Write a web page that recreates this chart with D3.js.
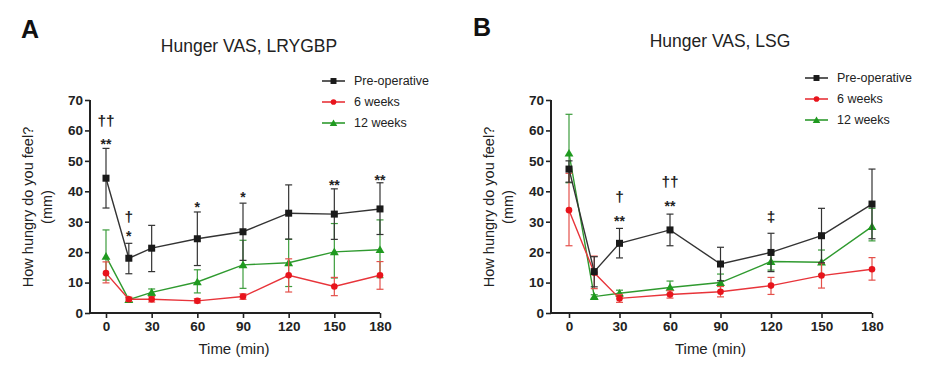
<!DOCTYPE html>
<html>
<head>
<meta charset="utf-8">
<script src="https://cdn.jsdelivr.net/npm/d3@7"></script>
<style>
  body { margin: 0; background: #fff; }
  svg { display: block; font-family: "Liberation Sans", Arial, sans-serif; }
</style>
</head>
<body>
<div id="chart"></div>
<script>
const times = [0, 15, 30, 60, 90, 120, 150, 180];
const xTicks = [0, 30, 60, 90, 120, 150, 180];
const yTicks = [0, 10, 20, 30, 40, 50, 60, 70];
const seriesNames = ["Pre-operative", "6 weeks", "12 weeks"];

// Panel A - LRYGBP
const preA = [44.3, 18.0, 21.3, 24.4, 26.7, 32.8, 32.5, 34.2];
const preA_lo = [34.5, 12.9, 13.6, 15.6, 17.3, 24.3, 24.2, 25.8];
const preA_hi = [54.1, 22.9, 28.8, 33.2, 36.1, 42.1, 40.8, 42.8];
const w6A = [13.1, 4.5, 4.5, 4.0, 5.4, 12.4, 8.7, 12.4];
const w6A_lo = [9.9, 3.8, 3.6, 3.3, 4.5, 6.9, 5.7, 7.8];
const w6A_hi = [16.8, 5.2, 5.4, 4.7, 6.3, 17.8, 11.7, 16.9];
const w12A = [18.6, 4.4, 6.8, 10.2, 15.8, 16.5, 20.1, 20.8];
const w12A_lo = [10.8, 3.8, 5.8, 6.6, 8.1, 8.7, 11.5, 11.6];
const w12A_hi = [27.3, 5.0, 7.9, 14.2, 23.9, 24.2, 29.4, 30.6];
const annotA = [
  {t: 0, y: 63.5, label: "††"}, {t: 0, y: 57.5, label: "**"},
  {t: 15, y: 32, label: "†"}, {t: 15, y: 27, label: "*"},
  {t: 60, y: 36.5, label: "*"}, {t: 90, y: 40, label: "*"},
  {t: 150, y: 44, label: "**"}, {t: 180, y: 45.6, label: "**"}
];

// Panel B - LSG
const preB = [47.3, 13.6, 22.9, 27.3, 16.1, 19.9, 25.4, 35.8];
const preB_lo = [43.0, 8.6, 18.1, 22.1, 10.6, 13.6, 16.5, 24.4];
const preB_hi = [50.0, 18.5, 27.8, 32.5, 21.6, 26.2, 34.4, 47.3];
const w6B = [33.8, 13.2, 4.8, 6.1, 7.0, 9.0, 12.3, 14.4];
const w6B_lo = [22.1, 8.0, 3.5, 4.9, 5.3, 6.1, 8.2, 10.8];
const w6B_hi = [45.9, 18.7, 6.1, 7.3, 8.7, 11.7, 16.4, 18.2];
const w12B = [52.5, 5.4, 6.5, 8.4, 10.0, 16.9, 16.7, 28.4];
const w12B_lo = [42.8, 4.8, 5.5, 6.3, 7.1, 14.1, 12.7, 23.7];
const w12B_hi = [65.3, 6.0, 7.5, 10.5, 12.8, 19.9, 20.7, 34.4];
const annotB = [
  {t: 30, y: 38.5, label: "†"}, {t: 30, y: 32, label: "**"},
  {t: 60, y: 43.5, label: "††"}, {t: 60, y: 37, label: "**"},
  {t: 120, y: 32, label: "‡"}
];

const colors = ["#1a1a1a", "#e8141c", "#1f9a1f"];
const lineColors = ["#333333", "#e8343a", "#2f9a2f"];
const errColors = ["#333333", "#e4504a", "#3c9c3c"];

const svg = d3.select("#chart").append("svg")
  .attr("width", 936).attr("height", 369);

function drawMarker(g, kind, x, y, color, sc = 1) {
  if (kind === 0) {
    g.append("rect").attr("x", x - 3.5 * sc).attr("y", y - 3.5 * sc)
      .attr("width", 7 * sc).attr("height", 7 * sc).attr("fill", color);
  } else if (kind === 1) {
    g.append("circle").attr("cx", x).attr("cy", y).attr("r", 3.3 * sc).attr("fill", color);
  } else {
    g.append("path")
      .attr("d", d3.symbol().type(d3.symbolTriangle).size(34 * sc * sc)())
      .attr("transform", `translate(${x},${y + 0.8})`)
      .attr("fill", color);
  }
}

function drawPanel(p) {
  const g = svg.append("g");
  const x = d3.scaleLinear().domain([0, 180]).range(p.xRange);
  const y = d3.scaleLinear().domain([0, 70]).range([313, 100]);

  // panel letter and title
  g.append("text").attr("x", p.letterX).attr("y", p.letterY)
    .attr("font-size", 25).attr("font-weight", "bold").attr("fill", "#111")
    .text(p.letter);
  g.append("text").attr("x", p.titleX).attr("y", p.titleY)
    .attr("text-anchor", "middle").attr("font-size", 17.5).attr("fill", "#222")
    .text(p.title);

  // axes
  const yAxis = d3.axisLeft(y).tickValues(yTicks).tickSize(5).tickPadding(2);
  const gy = g.append("g").attr("transform", `translate(${p.axisX},0)`).call(yAxis);
  gy.select(".domain").attr("d", `M0,${y(70)}V${y(0)}`);

  const xAxis = d3.axisBottom(x).tickValues(xTicks).tickSize(5).tickPadding(3);
  const gx = g.append("g").attr("transform", `translate(0,${y(0)})`).call(xAxis);
  gx.select(".domain").attr("d", `M${p.axisX},0H${x(180)}`);

  [gx, gy].forEach(a => {
    a.selectAll(".domain").attr("stroke", "#222").attr("stroke-width", 2);
    a.selectAll(".tick line").attr("stroke", "#222").attr("stroke-width", 1.6);
    a.selectAll("text").attr("font-size", 13.5).attr("font-weight", "bold")
      .attr("fill", "#222").attr("font-family", "Liberation Sans, Arial, sans-serif");
  });

  // axis titles
  g.append("text").attr("x", (p.axisX + x(180)) / 2 - 1).attr("y", 354)
    .attr("text-anchor", "middle").attr("font-size", 15).attr("fill", "#222")
    .text("Time (min)");
  const yt = g.append("text").attr("transform", `translate(${p.axisX - 57},207) rotate(-90)`)
    .attr("text-anchor", "middle").attr("font-size", 14.5).attr("fill", "#222");
  yt.append("tspan").attr("x", 0).attr("dy", 0).text("How hungry do you feel?");
  yt.append("tspan").attr("x", 0).attr("dy", 19).text("(mm)");

  // series: draw 12 weeks, 6 weeks, then pre-op on top
  const order = [2, 1, 0];
  order.forEach(si => {
    const s = p.series[si];
    const sg = g.append("g");
    // error bars
    times.forEach((t, i) => {
      const cx = x(t);
      sg.append("line").attr("x1", cx).attr("x2", cx)
        .attr("y1", y(s.lo[i])).attr("y2", y(s.hi[i]))
        .attr("stroke", errColors[si]).attr("stroke-width", 1.2);
      [s.lo[i], s.hi[i]].forEach(v => {
        sg.append("line").attr("x1", cx - 3.5).attr("x2", cx + 3.5)
          .attr("y1", y(v)).attr("y2", y(v))
          .attr("stroke", errColors[si]).attr("stroke-width", 1.2);
      });
    });
    const line = d3.line().x((d, i) => x(times[i])).y(d => y(d));
    sg.append("path").datum(s.mean).attr("d", line)
      .attr("fill", "none").attr("stroke", lineColors[si]).attr("stroke-width", 1.4);
    s.mean.forEach((v, i) => drawMarker(sg, si, x(times[i]), y(v), colors[si]));
  });

  // significance marks
  p.annot.forEach(a => {
    const isStar = a.label.includes("*");
    g.append("text").attr("x", x(a.t)).attr("y", y(a.y))
      .attr("dy", isStar ? "0.75em" : "0.38em")
      .attr("text-anchor", "middle")
      .attr("font-size", isStar ? 14 : 15.5).attr("font-weight", "bold")
      .attr("fill", "#222").text(a.label);
  });

  // legend
  seriesNames.forEach((name, i) => {
    const ly = p.legendY + i * 21;
    g.append("line").attr("x1", p.legendX).attr("x2", p.legendX + 23)
      .attr("y1", ly).attr("y2", ly).attr("stroke", lineColors[i]).attr("stroke-width", 1.6);
    drawMarker(g, i, p.legendX + 11.5, ly, colors[i], 0.85);
    g.append("text").attr("x", p.legendX + 32).attr("y", ly).attr("dy", "0.35em")
      .attr("font-size", 12.5).attr("fill", "#222").text(name);
  });
}

drawPanel({
  letter: "A", letterX: 21, letterY: 38,
  title: "Hunger VAS, LRYGBP", titleX: 249, titleY: 52,
  axisX: 90, xRange: [106, 380],
  legendX: 322, legendY: 81,
  annot: annotA,
  series: [
    {mean: preA, lo: preA_lo, hi: preA_hi},
    {mean: w6A, lo: w6A_lo, hi: w6A_hi},
    {mean: w12A, lo: w12A_lo, hi: w12A_hi}
  ]
});

drawPanel({
  letter: "B", letterX: 473, letterY: 36,
  title: "Hunger VAS, LSG", titleX: 720, titleY: 47,
  axisX: 551, xRange: [569, 872],
  legendX: 805, legendY: 78,
  annot: annotB,
  series: [
    {mean: preB, lo: preB_lo, hi: preB_hi},
    {mean: w6B, lo: w6B_lo, hi: w6B_hi},
    {mean: w12B, lo: w12B_lo, hi: w12B_hi}
  ]
});
</script>
</body>
</html>
